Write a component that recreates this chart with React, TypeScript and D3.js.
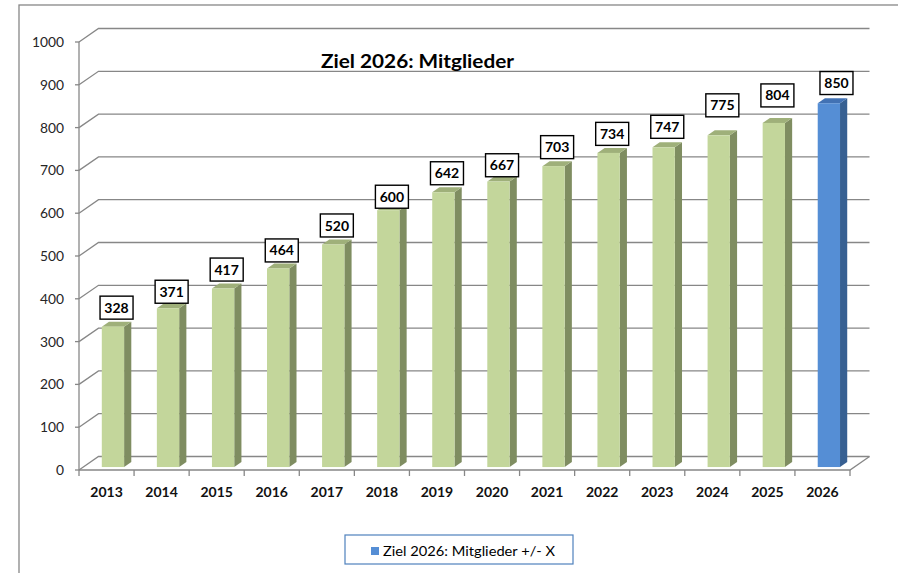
import React from "react";
import * as d3 from "d3";

const years = ["2013","2014","2015","2016","2017","2018","2019","2020","2021","2022","2023","2024","2025","2026"];
const members = [328, 371, 417, 464, 520, 600, 642, 667, 703, 734, 747, 775, 804, 850];
const targetYear = "2026";
const yTicks = [0, 100, 200, 300, 400, 500, 600, 700, 800, 900, 1000];
const title = "Ziel 2026: Mitglieder";
const legendLabel = "Ziel 2026: Mitglieder +/- X";
// manual label nudges (px), as placed in the original
const labelNudgeY = [0, 2.5, 0, 1, 0, 5.5, 0, 2.7, 0, 0, -1.5, -11, -8.5, -1.2];
const labelNudgeX = [0, 0, 0, 0, 0, 0, 0, 0, 0, 0, 0, 0, 0, 4];

const W = 898, H = 573;
const FONT = "Lato, 'Liberation Sans', sans-serif";
const GRID = "#878787";

export default function App() {
  const x0 = 79, x1 = 850;
  const depthDx = 19.5, depthDy = -13.5;
  const y = d3.scaleLinear().domain([0, 1000]).range([470, 42]);
  const x = d3.scaleBand().domain(years).range([x0, x1]).paddingInner(0).paddingOuter(0);
  const bw = x.bandwidth();
  const frontF = 0.22;
  const fdx = depthDx * frontF, fdy = depthDy * frontF;
  const sdx = 7.2, sdy = -5;
  const barW = bw * 0.405;
  const barOff = bw * 0.336;

  return (
    <svg width={W} height={H} style={{ position: "absolute", left: 0, top: 0, background: "#fff" }}>
      <rect x={19} y={5} width={900} height={600} fill="#fff" stroke={GRID} strokeWidth={1.3} />
      {/* back wall gridlines */}
      {yTicks.map((t) => (
        <path key={"g" + t}
          d={`M${x0},${y(t)} L${x0 + depthDx},${y(t) + depthDy} L${x1 + depthDx},${y(t) + depthDy}`}
          fill="none" stroke={GRID} strokeWidth={1.3} />
      ))}
      {/* floor */}
      <path d={`M${x0},${y(0)} L${x1},${y(0)} L${x1 + depthDx},${y(0) + depthDy}`} fill="none" stroke={GRID} strokeWidth={1.3} />
      {/* y axis */}
      <line x1={x0} x2={x0} y1={y(1000)} y2={y(0) + 6} stroke={GRID} strokeWidth={1.3} />
      {yTicks.map((t) => (
        <g key={"yt" + t}>
          <line x1={x0 - 4} x2={x0} y1={y(t)} y2={y(t)} stroke={GRID} strokeWidth={1.3} />
          <text x={64} y={y(t)} dy="0.36em" textAnchor="end" fontFamily={FONT} fontSize={13.8} fill="#262626">{t}</text>
        </g>
      ))}
      {/* x ticks */}
      {years.map((yr) => (
        <line key={"xt" + yr} x1={(x(yr) as number) + bw} x2={(x(yr) as number) + bw} y1={y(0)} y2={y(0) + 6} stroke={GRID} strokeWidth={1.3} />
      ))}
      {years.map((yr) => (
        <text key={"xl" + yr} x={(x(yr) as number) + bw / 2} y={497} textAnchor="middle" fontFamily={FONT} fontWeight="bold" fontSize={14} fill="#111">{yr}</text>
      ))}
      {/* bars */}
      {years.map((yr, i) => {
        const isT = yr === targetYear;
        const front = isT ? "#558ed5" : "#c3d69b";
        const side = isT ? "#376092" : "#7f8d61";
        const top = isT ? "#4272b4" : "#9fb07a";
        const xl = (x(yr) as number) + barOff + fdx;
        const xr = xl + barW;
        const yb = y(0) + fdy;
        const yt = y(members[i]) + fdy;
        return (
          <g key={"b" + yr}>
            <path d={`M${xr},${yt} L${xr + sdx},${yt + sdy} L${xr + sdx},${yb + sdy} L${xr},${yb} Z`} fill={side} />
            <path d={`M${xl},${yt} L${xr},${yt} L${xr + sdx},${yt + sdy} L${xl + sdx},${yt + sdy} Z`} fill={top} />
            <rect x={xl} y={yt} width={barW} height={yb - yt} fill={front} />
          </g>
        );
      })}
      {/* data labels */}
      {years.map((yr, i) => {
        const xl = (x(yr) as number) + barOff + fdx;
        const cx = xl + barW / 2 + 3.6 + labelNudgeX[i];
        const yt = y(members[i]) + fdy;
        const bh = 23, bwid = 33;
        const bottom = yt - 7.5 + labelNudgeY[i];
        return (
          <g key={"l" + yr}>
            <rect x={cx - bwid / 2} y={bottom - bh} width={bwid} height={bh} fill="#fff" stroke="#000" strokeWidth={1.4} />
            <text x={cx} y={bottom - bh / 2} dy="0.36em" textAnchor="middle" fontFamily={FONT} fontWeight="bold" fontSize={14} fill="#000">{members[i]}</text>
          </g>
        );
      })}
      {/* title */}
      <text x={321} y={68} fontFamily={FONT} fontWeight="bold" fontSize={19} textLength={193} lengthAdjust="spacingAndGlyphs" fill="#000">{title}</text>
      {/* legend */}
      <rect x={345} y={535} width={228} height={29} fill="#fff" stroke="#4f81bd" strokeWidth={1.2} />
      <rect x={371} y={547} width={8} height={8} fill="#558ed5" />
      <text x={383} y={556} fontFamily={FONT} fontSize={13.5} textLength={172} lengthAdjust="spacingAndGlyphs" fill="#000">{legendLabel}</text>
    </svg>
  );
}
